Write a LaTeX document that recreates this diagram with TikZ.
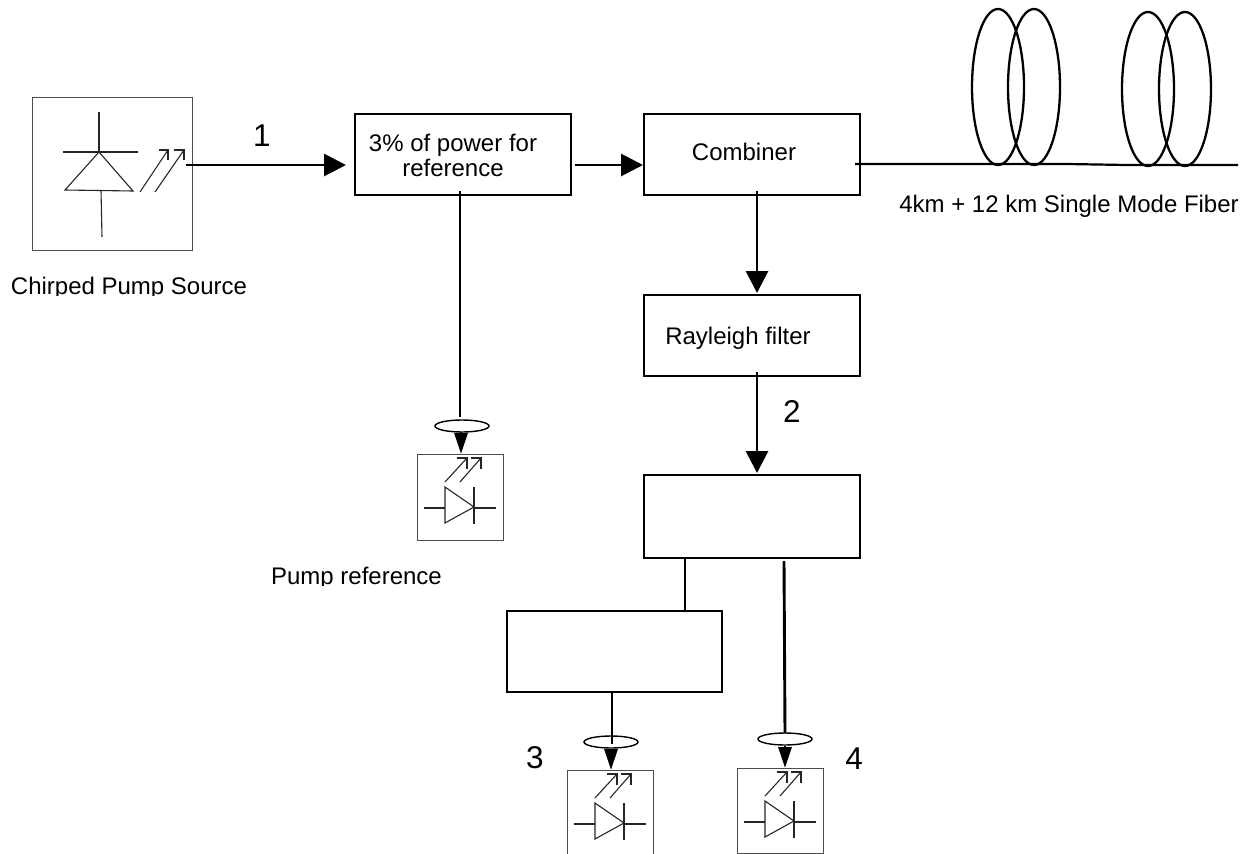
\documentclass[tikz,border=0pt]{standalone}
\usepackage{fontspec}
\setmainfont{Liberation Sans}
\usetikzlibrary{arrows.meta,shapes.geometric}
\tikzset{
  x=1pt,y=-1pt,
  blockbox/.style={draw=black,line width=1.7pt,rectangle,anchor=north west,inner sep=0pt},
  thinbox/.style={draw=black!70,line width=1.2pt,rectangle,anchor=north west,inner sep=0pt},
  sym/.style={line width=1.1pt,draw=black!85},
  wire/.style={line width=2.9pt,draw=black},
  flow/.style={wire,-{Triangle[length=22pt,width=22pt]}},
  flowin/.style={wire,-{Triangle[length=21pt,width=13pt]}},
  fiber/.style={line width=2.2pt,draw=black},
  coil/.style={line width=2.3pt,draw=black},
  blocktext/.style={font=\fontsize{24}{25}\selectfont,inner sep=0pt,align=center},
  bigcap/.style={font=\fontsize{24}{26}\selectfont,inner sep=0pt,anchor=base},
  numtext/.style={font=\fontsize{31.5}{33}\selectfont,inner sep=0pt,anchor=base},
  lens/.style={draw=black,line width=1.4pt,ellipse,minimum width=54pt,minimum height=12pt,inner sep=0pt},
  pics/detector/.style={code={
    \draw[sym] (28,33) -- (28,69) -- (57,53) -- cycle;
    \draw[sym] (57,33) -- (57,70);
    \draw[sym] (7,54) -- (28,54);
    \draw[sym] (57,54) -- (79,54);
    \draw[sym] (28,28) -- (50,4);
    \draw[sym] (40,4) -- (50,4) -- (50,15);
    \draw[sym] (43,28) -- (64,4);
    \draw[sym] (54,4) -- (64,4) -- (64,15);
  }}
}
\begin{document}
\begin{tikzpicture}
\useasboundingbox (0,0) rectangle (1245,854);
\clip (0,0) rectangle (1245,854);
% source
\node[thinbox,minimum width=160pt,minimum height=153pt] (src) at (32,97) {};
\draw[sym] (99,112) -- (99,152);
\draw[sym] (63,152) -- (138,152);
\draw[sym] (99,152) -- (65,190) -- (133,191) -- cycle;
\draw[sym] (101,190) -- (102,237);
\draw[sym] (140,192) -- (168,150);
\draw[sym] (159,150) -- (168,150) -- (168,160);
\draw[sym] (155,192) -- (184,150);
\draw[sym] (174,150) -- (184,150) -- (184,160);
\begin{scope}
\clip (0,260) rectangle (300,295);
\node[bigcap] (srcl) at (129,294) {Chirped Pump Source};
\end{scope}
% blocks
\node[blockbox,minimum width=216pt,minimum height=81pt] (split) at (354,113) {};
\node[blocktext] (splitl) at (453,155) {3\% of power for\\reference};
\node[blockbox,minimum width=216pt,minimum height=81pt] (comb) at (643,113) {};
\node[blocktext] (combl) at (744,152) {Combiner};
\node[blockbox,minimum width=216pt,minimum height=81pt] (ray) at (643,294) {};
\node[blocktext] (rayl) at (738,338) {Rayleigh filter};
\node[blockbox,minimum width=216pt,minimum height=83pt] (b4) at (643,474) {};
\node[blockbox,minimum width=215pt,minimum height=81pt] (b5) at (506,610) {};
% free ends
\coordinate (srcout) at (186,165);
\coordinate (splitout) at (575,165);
\coordinate (fibs) at (855,164);
\coordinate (fibe) at (1238,165);
\coordinate (b4r) at (784,561);
% connectors
\draw[flow] (srcout) -- ([xshift=-8pt]split.west |- srcout);
\draw[flow] (splitout) -- (comb.west |- splitout);
\draw[flow] (757,191) -- (757,293);
\draw[flow] (757,372) -- (757,473);
\draw[wire] (460,191) -- (460,417);
\draw[wire] (685,557) -- (685,610);
% detectors
\node[thinbox,minimum width=86pt,minimum height=86pt] (d1) at (417,454) {};
\pic at (417,454) {detector};
\node[thinbox,minimum width=86pt,minimum height=86pt] (d3) at (567,770) {};
\pic at (567,770) {detector};
\node[thinbox,minimum width=86pt,minimum height=85pt] (d4) at (737,768) {};
\pic at (737,768) {detector};
% lenses and arrows
\node[lens] (l1) at (462,426) {};
\draw[flowin] (461,432) -- (461,454);
\node[lens] (l3) at (611,742) {};
\draw[flowin] (l3.south) -- (d3.north -| l3.south);
\draw[wire] (612,693) -- (612,744);
\node[lens] (l4) at (785,739) {};
\draw[flowin] (l4.south) -- (d4.north -| l4.south);
\draw[wire] (b4r) -- (785,733);
% fibre
\draw[fiber] (fibs) -- (1067,164) -- (1127,165) -- (fibe);
\draw[coil] (998,87) ellipse [x radius=26,y radius=78];
\draw[coil] (1034,87) ellipse [x radius=26,y radius=78];
\draw[coil] (1148,89) ellipse [x radius=26,y radius=77];
\draw[coil] (1185,89) ellipse [x radius=26,y radius=77];
% labels
\node[bigcap] (fl) at (1069,212) {4km + 12 km Single Mode Fiber};
\begin{scope}
\clip (250,550) rectangle (500,585);
\node[bigcap] (pr) at (356.5,584) {Pump reference};
\end{scope}
\node[numtext] (n1) at (262,146) {1};
\node[numtext] (n2) at (792,422) {2};
\node[numtext] (n3) at (535,768) {3};
\node[numtext] (n4) at (854,769) {4};
\end{tikzpicture}
\end{document}
